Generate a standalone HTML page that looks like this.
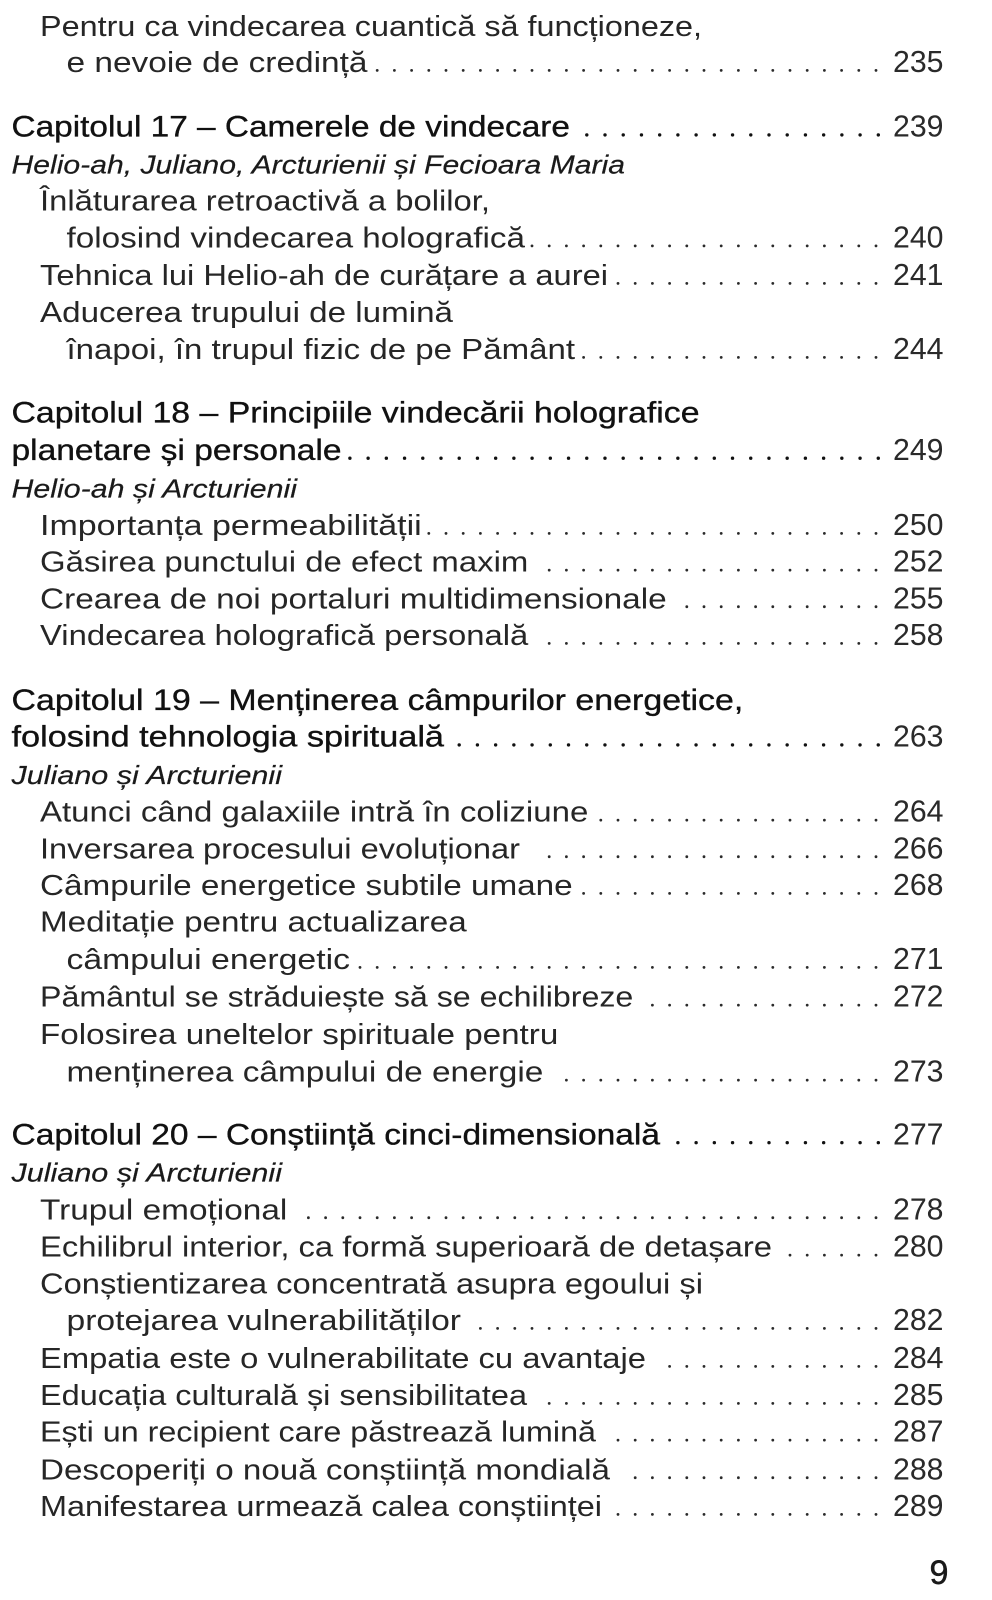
<!DOCTYPE html>
<html>
<head>
<meta charset="utf-8">
<style>
html,body{margin:0;padding:0;background:#fff;}
svg{display:block;}
.e{font-family:"Liberation Sans",sans-serif;font-size:29px;fill:#262626;}
.c{font-family:"Liberation Sans",sans-serif;font-size:30px;fill:#111;stroke:#111;stroke-width:0.35;}
.i{font-family:"Liberation Sans",sans-serif;font-size:26px;font-style:italic;fill:#1a1a1a;stroke:#1a1a1a;stroke-width:0.2;}
.n{font-family:"Liberation Sans",sans-serif;font-size:31px;fill:#2a2a2a;}
.p{font-family:"Liberation Sans",sans-serif;font-size:34px;fill:#1a1a1a;stroke:#1a1a1a;stroke-width:0.5;}
.d{stroke:#2a2a2a;stroke-width:2.8;stroke-linecap:round;stroke-dasharray:0 17.2;fill:none;}
.dc{stroke:#111;stroke-width:3.4;stroke-linecap:round;stroke-dasharray:0 18.22;fill:none;}
</style>
</head>
<body>
<svg width="992" height="1600" viewBox="0 0 992 1600" xmlns="http://www.w3.org/2000/svg">
<rect width="992" height="1600" fill="#fff"/>

<!-- top entry -->
<text class="e" x="40" y="36" textLength="662" lengthAdjust="spacingAndGlyphs">Pentru ca vindecarea cuantică să funcționeze,</text>
<text class="e" x="66.5" y="72" textLength="301" lengthAdjust="spacingAndGlyphs">e nevoie de credință</text>
<line class="d" x1="377.2" y1="70.4" x2="877" y2="70.4"/>
<text class="n" x="893" y="72" textLength="50.5" lengthAdjust="spacingAndGlyphs">235</text>

<!-- Chapter 17 -->
<text class="c" x="11.5" y="136.7" textLength="558.5" lengthAdjust="spacingAndGlyphs">Capitolul 17 – Camerele de vindecare</text>
<line class="dc" x1="586.8" y1="134.9" x2="879" y2="134.9"/>
<text class="n" x="893" y="136.7" textLength="50.5" lengthAdjust="spacingAndGlyphs">239</text>
<text class="i" x="11.5" y="173.3" textLength="613.5" lengthAdjust="spacingAndGlyphs">Helio-ah, Juliano, Arcturienii și Fecioara Maria</text>
<text class="e" x="40" y="210.5" textLength="450" lengthAdjust="spacingAndGlyphs">Înlăturarea retroactivă a bolilor,</text>
<text class="e" x="66.5" y="247.5" textLength="458.5" lengthAdjust="spacingAndGlyphs">folosind vindecarea holografică</text>
<line class="d" x1="532" y1="245.9" x2="877" y2="245.9"/>
<text class="n" x="893" y="247.5" textLength="50.5" lengthAdjust="spacingAndGlyphs">240</text>
<text class="e" x="40" y="285" textLength="568" lengthAdjust="spacingAndGlyphs">Tehnica lui Helio-ah de curățare a aurei</text>
<line class="d" x1="618" y1="283.4" x2="877" y2="283.4"/>
<text class="n" x="893" y="285" textLength="50.5" lengthAdjust="spacingAndGlyphs">241</text>
<text class="e" x="40" y="322" textLength="413" lengthAdjust="spacingAndGlyphs">Aducerea trupului de lumină</text>
<text class="e" x="66.5" y="359" textLength="508.5" lengthAdjust="spacingAndGlyphs">înapoi, în trupul fizic de pe Pământ</text>
<line class="d" x1="583.6" y1="357.4" x2="877" y2="357.4"/>
<text class="n" x="893" y="359" textLength="50.5" lengthAdjust="spacingAndGlyphs">244</text>

<!-- Chapter 18 -->
<text class="c" x="11.5" y="422.5" textLength="688" lengthAdjust="spacingAndGlyphs">Capitolul 18 – Principiile vindecării holografice</text>
<text class="c" x="11.5" y="460" textLength="330" lengthAdjust="spacingAndGlyphs">planetare și personale</text>
<line class="dc" x1="349.9" y1="458.2" x2="879" y2="458.2"/>
<text class="n" x="893" y="460" textLength="50.5" lengthAdjust="spacingAndGlyphs">249</text>
<text class="i" x="11.5" y="497.5" textLength="285.5" lengthAdjust="spacingAndGlyphs">Helio-ah și Arcturienii</text>
<text class="e" x="40" y="535" textLength="381.7" lengthAdjust="spacingAndGlyphs">Importanța permeabilității</text>
<line class="d" x1="428.8" y1="533.4" x2="877" y2="533.4"/>
<text class="n" x="893" y="535" textLength="50.5" lengthAdjust="spacingAndGlyphs">250</text>
<text class="e" x="40" y="571.7" textLength="488.3" lengthAdjust="spacingAndGlyphs">Găsirea punctului de efect maxim</text>
<line class="d" x1="549.2" y1="570.1" x2="877" y2="570.1"/>
<text class="n" x="893" y="571.7" textLength="50.5" lengthAdjust="spacingAndGlyphs">252</text>
<text class="e" x="40" y="608.3" textLength="626.7" lengthAdjust="spacingAndGlyphs">Crearea de noi portaluri multidimensionale</text>
<line class="d" x1="686.8" y1="606.7" x2="877" y2="606.7"/>
<text class="n" x="893" y="608.3" textLength="50.5" lengthAdjust="spacingAndGlyphs">255</text>
<text class="e" x="40" y="645" textLength="488.3" lengthAdjust="spacingAndGlyphs">Vindecarea holografică personală</text>
<line class="d" x1="549.2" y1="643.4" x2="877" y2="643.4"/>
<text class="n" x="893" y="645" textLength="50.5" lengthAdjust="spacingAndGlyphs">258</text>

<!-- Chapter 19 -->
<text class="c" x="11.5" y="710" textLength="731.8" lengthAdjust="spacingAndGlyphs">Capitolul 19 – Menținerea câmpurilor energetice,</text>
<text class="c" x="11.5" y="746.7" textLength="432.5" lengthAdjust="spacingAndGlyphs">folosind tehnologia spirituală</text>
<line class="dc" x1="459.2" y1="744.9" x2="879" y2="744.9"/>
<text class="n" x="893" y="746.7" textLength="50.5" lengthAdjust="spacingAndGlyphs">263</text>
<text class="i" x="11.5" y="784" textLength="270.5" lengthAdjust="spacingAndGlyphs">Juliano și Arcturienii</text>
<text class="e" x="40" y="821.7" textLength="548.3" lengthAdjust="spacingAndGlyphs">Atunci când galaxiile intră în coliziune</text>
<line class="d" x1="600.8" y1="820.1" x2="877" y2="820.1"/>
<text class="n" x="893" y="821.7" textLength="50.5" lengthAdjust="spacingAndGlyphs">264</text>
<text class="e" x="40" y="858.3" textLength="480" lengthAdjust="spacingAndGlyphs">Inversarea procesului evoluționar</text>
<line class="d" x1="549.2" y1="856.7" x2="877" y2="856.7"/>
<text class="n" x="893" y="858.3" textLength="50.5" lengthAdjust="spacingAndGlyphs">266</text>
<text class="e" x="40" y="895" textLength="532.7" lengthAdjust="spacingAndGlyphs">Câmpurile energetice subtile umane</text>
<line class="d" x1="583.6" y1="893.4" x2="877" y2="893.4"/>
<text class="n" x="893" y="895" textLength="50.5" lengthAdjust="spacingAndGlyphs">268</text>
<text class="e" x="40" y="931.7" textLength="426.7" lengthAdjust="spacingAndGlyphs">Meditație pentru actualizarea</text>
<text class="e" x="66.5" y="969" textLength="283.5" lengthAdjust="spacingAndGlyphs">câmpului energetic</text>
<line class="d" x1="360" y1="967.4" x2="877" y2="967.4"/>
<text class="n" x="893" y="969" textLength="50.5" lengthAdjust="spacingAndGlyphs">271</text>
<text class="e" x="40" y="1006.7" textLength="593.3" lengthAdjust="spacingAndGlyphs">Pământul se străduiește să se echilibreze</text>
<line class="d" x1="652.4" y1="1005.1" x2="877" y2="1005.1"/>
<text class="n" x="893" y="1006.7" textLength="50.5" lengthAdjust="spacingAndGlyphs">272</text>
<text class="e" x="40" y="1044" textLength="518.3" lengthAdjust="spacingAndGlyphs">Folosirea uneltelor spirituale pentru</text>
<text class="e" x="66.5" y="1081.7" textLength="476.8" lengthAdjust="spacingAndGlyphs">menținerea câmpului de energie</text>
<line class="d" x1="566.4" y1="1080.1" x2="877" y2="1080.1"/>
<text class="n" x="893" y="1081.7" textLength="50.5" lengthAdjust="spacingAndGlyphs">273</text>

<!-- Chapter 20 -->
<text class="c" x="11.5" y="1144.5" textLength="648.5" lengthAdjust="spacingAndGlyphs">Capitolul 20 – Conștiință cinci-dimensională</text>
<line class="dc" x1="677.9" y1="1142.7" x2="879" y2="1142.7"/>
<text class="n" x="893" y="1144.5" textLength="50.5" lengthAdjust="spacingAndGlyphs">277</text>
<text class="i" x="11.5" y="1181.7" textLength="270.5" lengthAdjust="spacingAndGlyphs">Juliano și Arcturienii</text>
<text class="e" x="40" y="1219.3" textLength="247.3" lengthAdjust="spacingAndGlyphs">Trupul emoțional</text>
<line class="d" x1="308.4" y1="1217.7" x2="877" y2="1217.7"/>
<text class="n" x="893" y="1219.3" textLength="50.5" lengthAdjust="spacingAndGlyphs">278</text>
<text class="e" x="40" y="1256.7" textLength="732" lengthAdjust="spacingAndGlyphs">Echilibrul interior, ca formă superioară de detașare</text>
<line class="d" x1="790" y1="1255.1" x2="877" y2="1255.1"/>
<text class="n" x="893" y="1256.7" textLength="50.5" lengthAdjust="spacingAndGlyphs">280</text>
<text class="e" x="40" y="1293.3" textLength="663" lengthAdjust="spacingAndGlyphs">Conștientizarea concentrată asupra egoului și</text>
<text class="e" x="66.5" y="1330" textLength="394.5" lengthAdjust="spacingAndGlyphs">protejarea vulnerabilităților</text>
<line class="d" x1="480.4" y1="1328.4" x2="877" y2="1328.4"/>
<text class="n" x="893" y="1330" textLength="50.5" lengthAdjust="spacingAndGlyphs">282</text>
<text class="e" x="40" y="1368" textLength="606" lengthAdjust="spacingAndGlyphs">Empatia este o vulnerabilitate cu avantaje</text>
<line class="d" x1="669.6" y1="1366.4" x2="877" y2="1366.4"/>
<text class="n" x="893" y="1368" textLength="50.5" lengthAdjust="spacingAndGlyphs">284</text>
<text class="e" x="40" y="1405" textLength="487" lengthAdjust="spacingAndGlyphs">Educația culturală și sensibilitatea</text>
<line class="d" x1="549.2" y1="1403.4" x2="877" y2="1403.4"/>
<text class="n" x="893" y="1405" textLength="50.5" lengthAdjust="spacingAndGlyphs">285</text>
<text class="e" x="40" y="1441.7" textLength="556" lengthAdjust="spacingAndGlyphs">Ești un recipient care păstrează lumină</text>
<line class="d" x1="618" y1="1440.1" x2="877" y2="1440.1"/>
<text class="n" x="893" y="1441.7" textLength="50.5" lengthAdjust="spacingAndGlyphs">287</text>
<text class="e" x="40" y="1479.3" textLength="570" lengthAdjust="spacingAndGlyphs">Descoperiți o nouă conștiință mondială</text>
<line class="d" x1="635.2" y1="1477.7" x2="877" y2="1477.7"/>
<text class="n" x="893" y="1479.3" textLength="50.5" lengthAdjust="spacingAndGlyphs">288</text>
<text class="e" x="40" y="1516" textLength="562" lengthAdjust="spacingAndGlyphs">Manifestarea urmează calea conștiinței</text>
<line class="d" x1="618" y1="1514.4" x2="877" y2="1514.4"/>
<text class="n" x="893" y="1516" textLength="50.5" lengthAdjust="spacingAndGlyphs">289</text>

<!-- page number -->
<text class="p" x="929.5" y="1584" textLength="19" lengthAdjust="spacingAndGlyphs">9</text>
</svg>
</body>
</html>
